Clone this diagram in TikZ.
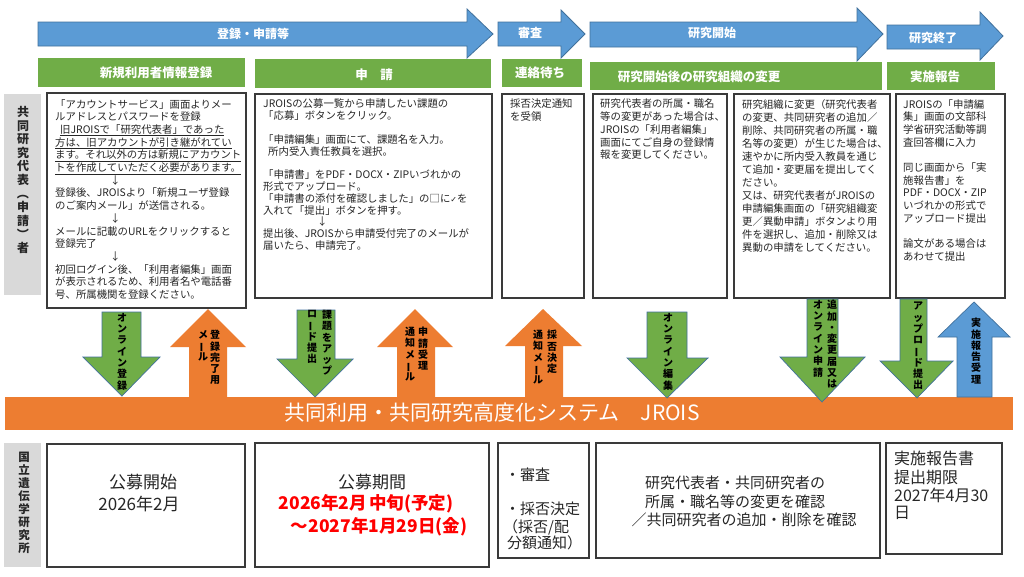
\documentclass[tikz,border=0pt]{standalone}
\usepackage{fontspec}
\usepackage{graphicx}
\setmainfont{Noto Sans CJK JP}
\newfontfamily\djv{DejaVu Sans}
\definecolor{blueA}{HTML}{5B9BD5}
\definecolor{blueB}{HTML}{41719C}
\definecolor{greenA}{HTML}{70AD47}
\definecolor{orangeA}{HTML}{ED7D31}
\definecolor{grayA}{HTML}{D9D9D9}
\definecolor{boxc}{HTML}{3A3A3A}
\definecolor{txtc}{HTML}{262626}
\definecolor{redA}{HTML}{FF0000}
\newcommand\vbar{\rotatebox[origin=c]{90}{ー}}
\newcommand\vlp{\rotatebox[origin=c]{-90}{（}}
\newcommand\vrp{\rotatebox[origin=c]{-90}{）}}
\tikzset{
 toparrow/.style={fill=blueA, draw=blueB, line width=0.8pt},
 hdr/.style={fill=greenA},
 hdrtxt/.style={text=white, font=\bfseries\fontsize{12.5}{14}\selectfont, inner sep=0pt},
 arrtxt/.style={text=white, font=\bfseries\fontsize{12}{14}\selectfont, inner sep=0pt},
 infobox/.style={draw=boxc, line width=1.1pt},
 boxtxt/.style={anchor=north west, inner sep=0pt, align=left, text=txtc, font=\fontsize{10.4}{12.7}\selectfont},
 downarr/.style={fill=greenA, draw=blueB, line width=0.7pt},
 uparr/.style={fill=orangeA},
 bluearr/.style={fill=blueA, draw=blueB, line width=0.7pt},
 vt/.style={anchor=north, inner sep=0pt, align=center, text=black, font=\bfseries\fontsize{10}{11.3}\selectfont},
 lbl/.style={fill=grayA},
 lbltxt/.style={inner sep=0pt, align=center, text=txtc, font=\bfseries\fontsize{12}{13.6}\selectfont},
 bigtxt/.style={inner sep=0pt, text=txtc, font=\fontsize{17}{20}\selectfont},
 midtxt/.style={inner sep=0pt, text=txtc, font=\fontsize{15}{18}\selectfont},
 redtxt/.style={inner sep=0pt, text=redA, font=\bfseries\fontsize{17.5}{20}\selectfont},
}
\begin{document}
\begin{tikzpicture}[x=1pt,y=-1pt]
\useasboundingbox (0,0) rectangle (1024,576);
\fill[white] (0,0) rectangle (1024,576);

% ---- top process arrows
\draw[toparrow] (38,22) -- (467,22) -- (467,9) -- (493,34) -- (467,58) -- (467,46) -- (38,46) -- cycle;
\draw[toparrow] (498,22) -- (561,22) -- (561,10) -- (585,34) -- (561,58) -- (561,46) -- (498,46) -- cycle;
\draw[toparrow] (590,22) -- (857,22) -- (857,8) -- (883,34) -- (857,61) -- (857,47) -- (590,47) -- cycle;
\draw[toparrow] (887,25) -- (980,25) -- (980,12) -- (1003,36) -- (980,60) -- (980,49) -- (887,49) -- cycle;
\node[arrtxt] (t1) at (253,34) {登録・申請等};
\node[arrtxt] (t2) at (530,33) {審査};
\node[arrtxt] (t3) at (712,33) {研究開始};
\node[arrtxt] (t4) at (933,38) {研究終了};

% ---- green headers
\fill[hdr] (38,58) rectangle (245,87);
\fill[hdr] (255,59) rectangle (491,88);
\fill[hdr] (502,59) rectangle (582,87);
\fill[hdr] (590,62) rectangle (882,90);
\fill[hdr] (887,62) rectangle (995,90);
\node[hdrtxt] (h1) at (156,73) {新規利用者情報登録};
\node[hdrtxt] (h2) at (374,75) {申　請};
\node[hdrtxt] (h3) at (540,73) {連絡待ち};
\node[hdrtxt] (h4) at (699,77) {研究開始後の研究組織の変更};
\node[hdrtxt] (h5) at (935,77) {実施報告};

% ---- side labels
\fill[lbl] (4,94) rectangle (41,295);
\node[lbltxt] (l1) at (23,180) {共\\同\\研\\究\\代\\表\\\vlp\\申\\請\\\vrp\\者};
\fill[lbl] (4,443) rectangle (41,567);
\node[lbltxt, font=\bfseries\fontsize{11.5}{13}\selectfont] (l2) at (24,503) {国\\立\\遺\\伝\\学\\研\\究\\所};

% ---- upper boxes
\draw[infobox] (47,93) rectangle (246,308);
\draw[infobox] (255,94) rectangle (492,298);
\draw[infobox] (502,94) rectangle (584,298);
\draw[infobox] (593,94) rectangle (727,298);
\draw[infobox] (734,94) rectangle (890,298);
\draw[infobox] (896,94) rectangle (1005,298);

\node[boxtxt] (b1) at (55,99) {「アカウントサービス」画面よりメー\\%
ルアドレスとパスワードを登録\\%
\hspace*{5pt}\underline{旧JROISで「研究代表者」であった}\\%
\underline{方は、旧アカウントが引き継がれてい}\\%
\underline{ます。それ以外の方は新規にアカウント}\\%
\underline{トを作成していただく必要があります。}\\%
\hspace*{55pt}↓\\%
登録後、JROISより「新規ユーザ登録\\%
のご案内メール」が送信される。\\%
\hspace*{55pt}↓\\%
メールに記載のURLをクリックすると\\%
登録完了\\%
\hspace*{55pt}↓\\%
初回ログイン後、「利用者編集」画面\\%
が表示されるため、利用者名や電話番\\%
号、所属機関を登録ください。};

\node[boxtxt, font=\fontsize{10.4}{11.8}\selectfont] (b2) at (263,99) {JROISの公募一覧から申請したい課題の\\%
「応募」ボタンをクリック。\\%
\mbox{}\\%
「申請編集」画面にて、課題名を入力。\\%
\hspace*{5pt}所内受入責任教員を選択。\\%
\mbox{}\\%
「申請書」をPDF・DOCX・ZIPいづれかの\\%
形式でアップロード。\\%
「申請書の添付を確認しました」の□に{\djv\fontsize{8}{10}\selectfont ✓}を\\%
入れて「提出」ボタンを押す。\\%
\hspace*{54pt}↓\\%
提出後、JROISから申請受付完了のメールが\\%
届いたら、申請完了。};

\node[boxtxt] (b3) at (510,99) {採否決定通知\\を受領};

\node[boxtxt] (b4) at (600,99) {研究代表者の所属・職名\\%
等の変更があった場合は、\\%
JROISの「利用者編集」\\%
画面にてご自身の登録情\\%
報を変更してください。};

\node[boxtxt, font=\fontsize{10.4}{13}\selectfont] (b5) at (742,99) {研究組織に変更（研究代表者\\%
の変更、共同研究者の追加／\\%
削除、共同研究者の所属・職\\%
名等の変更）が生じた場合は、\\%
速やかに所内受入教員を通じ\\%
て追加・変更届を提出してく\\%
ださい。\\%
又は、研究代表者がJROISの\\%
申請編集画面の「研究組織変\\%
更／異動申請」ボタンより用\\%
件を選択し、追加・削除又は\\%
異動の申請をしてください。};

\node[boxtxt] (b6) at (903,99) {JROISの「申請編\\%
集」画面の文部科\\%
学省研究活動等調\\%
査回答欄に入力\\%
\mbox{}\\%
同じ画面から「実\\%
施報告書」を\\%
PDF・DOCX・ZIP\\%
いづれかの形式で\\%
アップロード提出\\%
\mbox{}\\%
論文がある場合は\\%
あわせて提出};

% ---- system bar
\fill[orangeA] (5,397) rectangle (1013,430);
\node[inner sep=0pt, text=white, font=\fontsize{21}{24}\selectfont] (sys) at (492,413) {共同利用・共同研究高度化システム　JROIS};

% ---- middle arrows
\draw[downarr] (102,312) -- (141,312) -- (141,357) -- (160,357) -- (122,396) -- (83,357) -- (102,357) -- cycle;
\fill[uparr] (189,397) -- (189,347) -- (170,347) -- (208,309) -- (246,347) -- (227,347) -- (227,397) -- cycle;
\draw[downarr] (297,310) -- (335,310) -- (335,359) -- (353,359) -- (315,397) -- (277,359) -- (297,359) -- cycle;
\fill[uparr] (397,397) -- (397,347) -- (377,347) -- (415,309) -- (453,347) -- (435,347) -- (435,397) -- cycle;
\fill[uparr] (525,397) -- (525,346) -- (505,346) -- (543,309) -- (582,346) -- (563,346) -- (563,397) -- cycle;
\draw[downarr] (647,312) -- (687,312) -- (687,358) -- (708,358) -- (667,398) -- (627,358) -- (647,358) -- cycle;
\draw[downarr] (807,299) -- (838,299) -- (838,357) -- (865,357) -- (822,402) -- (780,357) -- (807,357) -- cycle;
\draw[downarr] (900,299) -- (927,299) -- (927,361) -- (953,361) -- (917,398) -- (880,361) -- (900,361) -- cycle;
\draw[bluearr] (957,397) -- (957,337) -- (938,337) -- (974,302) -- (1010,337) -- (992,337) -- (992,397) -- cycle;

\node[vt] (a1) at (122,313) {オ\\ン\\ラ\\イ\\ン\\登\\録};
\node[vt] (a2r) at (215,330) {登\\録\\完\\了\\用};
\node[vt] (a2l) at (203,330) {メ\\\vbar\\ル};
\node[vt] (a3r) at (327,310) {課\\題\\を\\ア\\ッ\\プ};
\node[vt] (a3l) at (312,310) {ロ\\\vbar\\ド\\提\\出};
\node[vt] (a4r) at (423,327) {申\\請\\受\\理};
\node[vt] (a4l) at (410,327) {通\\知\\メ\\\vbar\\ル};
\node[vt] (a5r) at (552,330) {採\\否\\決\\定};
\node[vt] (a5l) at (538,330) {通\\知\\メ\\\vbar\\ル};
\node[vt] (a6) at (668,313) {オ\\ン\\ラ\\イ\\ン\\編\\集};
\node[vt] (a7r) at (832,300) {追\\加\\・\\変\\更\\届\\又\\は};
\node[vt] (a7l) at (818,300) {オ\\ン\\ラ\\イ\\ン\\申\\請};
\node[vt] (a8) at (918,302) {ア\\ッ\\プ\\ロ\\\vbar\\ド\\提\\出};
\node[vt] (a9) at (976,318) {実\\施\\報\\告\\受\\理};

% ---- lower boxes
\draw[infobox] (47,444) rectangle (245,567);
\draw[infobox] (255,443) rectangle (489,567);
\draw[infobox] (498,443) rectangle (589,558);
\draw[infobox] (596,443) rectangle (880,558);
\draw[infobox] (886,443) rectangle (1002,554);

\node[bigtxt] (c1a) at (143,482) {公募開始};
\node[bigtxt] (c1b) at (139,504) {2026年2月};
\node[bigtxt] (c2a) at (372,482) {公募期間};
\node[redtxt] (c2b) at (366,504) {2026年2月\hspace{2pt}中旬(予定)};
\node[redtxt] (c2c) at (379,527) {～2027年1月29日(金)};
\node[midtxt, anchor=west] (c3a) at (505,475) {・審査};
\node[midtxt, anchor=west] (c3b) at (505,509) {・採否決定};
\node[midtxt, anchor=west] (c3c) at (503,527) {（採否/配};
\node[midtxt, anchor=west] (c3d) at (507,543) {分額通知）};
\node[midtxt] (c4a) at (735,483) {研究代表者・共同研究者の};
\node[midtxt] (c4b) at (735,502) {所属・職名等の変更を確認};
\node[midtxt] (c4c) at (744,520) {／共同研究者の追加・削除を確認};
\node[midtxt, anchor=west, font=\fontsize{16}{19}\selectfont] (c5a) at (894,458) {実施報告書};
\node[midtxt, anchor=west, font=\fontsize{16}{19}\selectfont] (c5b) at (894,477) {提出期限};
\node[midtxt, anchor=west, font=\fontsize{16}{19}\selectfont] (c5c) at (894,495) {2027年4月30};
\node[midtxt, anchor=west, font=\fontsize{16}{19}\selectfont] (c5d) at (894,513) {日};
\end{tikzpicture}
\end{document}
